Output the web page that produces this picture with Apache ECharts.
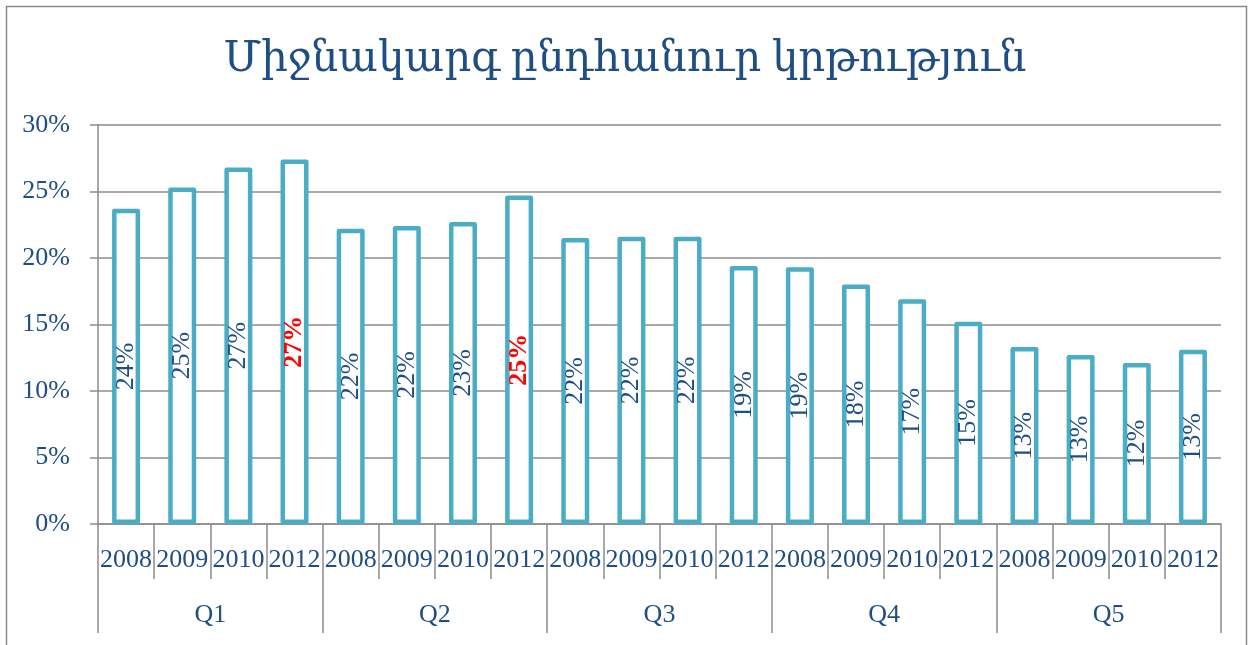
<!DOCTYPE html>
<html>
<head>
<meta charset="utf-8">
<style>
  html, body { margin: 0; padding: 0; background: #fff; }
  #chart { width: 1250px; height: 645px; }
</style>
</head>
<body>
<div id="chart"></div>
<script src="https://cdn.jsdelivr.net/npm/echarts@6/dist/echarts.min.js"></script>
<script type="text/javascript">
    var years = ['2008', '2009', '2010', '2012', '2008', '2009', '2010', '2012', '2008', '2009',
                 '2010', '2012', '2008', '2009', '2010', '2012', '2008', '2009', '2010', '2012'];
    var groups = ['Q1', 'Q2', 'Q3', 'Q4', 'Q5'];
    var values = [23.7, 25.3, 26.8, 27.4, 22.2, 22.4, 22.7, 24.7, 21.5, 21.6,
                  21.6, 19.4, 19.3, 18.0, 16.9, 15.2, 13.3, 12.7, 12.1, 13.1];
    var highlighted = [3, 7];
    var yTicks = [0, 5, 10, 15, 20, 25, 30];

    var textColor = '#1f4e84';
    var fontFamily = "'Liberation Serif', 'DejaVu Serif', serif";

    var barData = values.map(function (v, i) {
        var item = { value: v };
        if (highlighted.indexOf(i) >= 0) {
            item.label = { color: '#ff0000', fontWeight: 'bold' };
        }
        return item;
    });

    var myChart = echarts.init(document.getElementById('chart'));

    var option = {
        animation: false,
        textStyle: { fontFamily: fontFamily },
        title: {
            text: 'Միջնակարգ ընդհանուր կրթություն',
            left: 'center',
            top: 34,
            textStyle: { color: textColor, fontSize: 42, fontWeight: 'normal', fontFamily: fontFamily }
        },
        graphic: [{
            type: 'rect',
            shape: { x: 6.5, y: 6.5, width: 1240, height: 660 },
            style: { fill: 'none', stroke: '#8a8a8a', lineWidth: 1.5 },
            silent: true
        }],
        grid: { left: 98, right: 29, top: 125, bottom: 121 },
        xAxis: [{
            type: 'category',
            data: years,
            position: 'bottom',
            axisLine: { lineStyle: { color: '#8c8c8c', width: 1.5 } },
            axisTick: { show: true, interval: 0, length: 55, lineStyle: { color: '#8c8c8c', width: 1.5 } },
            axisLabel: { interval: 0, margin: 23, color: textColor, fontSize: 26, fontFamily: fontFamily }
        }, {
            type: 'category',
            data: groups,
            position: 'bottom',
            axisLine: { show: false },
            axisTick: { show: true, interval: 0, length: 109, lineStyle: { color: '#8c8c8c', width: 1.5 } },
            axisLabel: { interval: 0, margin: 78, color: textColor, fontSize: 26, fontFamily: fontFamily }
        }],
        yAxis: {
            type: 'value',
            min: yTicks[0],
            max: yTicks[yTicks.length - 1],
            interval: yTicks[1] - yTicks[0],
            axisLine: { show: true, lineStyle: { color: '#8c8c8c', width: 1.5 } },
            axisTick: { show: true, length: 8, lineStyle: { color: '#8c8c8c', width: 1.5 } },
            splitLine: { lineStyle: { color: '#8c8c8c', width: 1.5 } },
            axisLabel: { formatter: '{value}%', margin: 28, color: textColor, fontSize: 26, fontFamily: fontFamily }
        },
        series: [{
            type: 'bar',
            xAxisIndex: 0,
            data: barData,
            barWidth: 28,
            itemStyle: { color: '#ffffff', borderColor: '#4bacc6', borderWidth: 4.5, borderJoin: 'round' },
            label: {
                show: true,
                position: 'inside',
                rotate: 90,
                color: textColor,
                fontSize: 26,
                fontFamily: fontFamily,
                formatter: function (p) { return Math.round(p.value) + '%'; }
            }
        }]
    };

    myChart.setOption(option);
</script>
</body>
</html>
